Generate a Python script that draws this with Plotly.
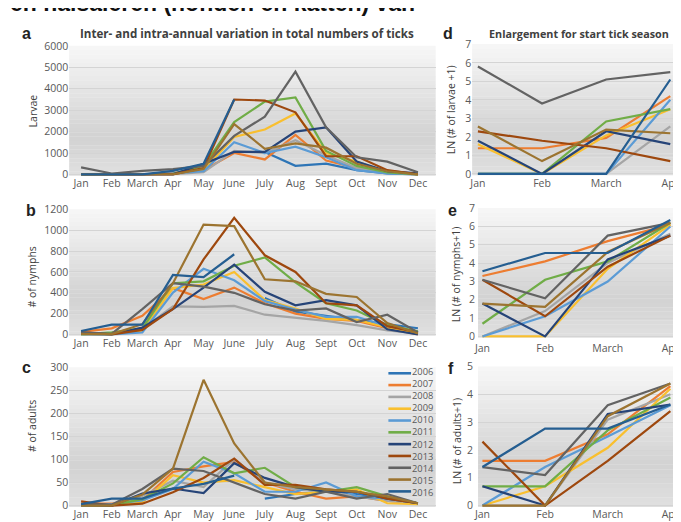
import numpy as np
import plotly.graph_objects as go

months = ["Jan", "Feb", "March", "Apr", "May", "June", "July", "Aug", "Sept", "Oct", "Nov", "Dec"]
years = ["2006", "2007", "2008", "2009", "2010", "2011", "2012", "2013", "2014", "2015", "2016"]
colors = ["#2E75B6", "#ED7D31", "#A5A5A5", "#F9BF2E", "#5B9BD5", "#70AD47",
          "#264478", "#9E480E", "#636363", "#9C7430", "#255E91"]
N = None

larvae = {
    "2006": [N, N, N, N, N, N, 1050, 400, 500, 200, 50, 0],
    "2007": [3, 3, 6, 66, 200, 1000, 700, 1850, 650, 300, 100, 0],
    "2008": [0, 0, 0, 12, 100, 1100, 1000, 1600, 900, 300, 100, 0],
    "2009": [4, 0, 7, 32, 200, 1750, 2100, 2850, 1000, 600, 100, 0],
    "2010": [0, 0, 0, 54, 150, 1500, 1000, 1300, 800, 200, 50, 0],
    "2011": [0, 0, 16, 32, 400, 2450, 3400, 3600, 1100, 400, 100, 0],
    "2012": [5, 0, 9, 4, 500, 1050, 1050, 2000, 2200, 600, 150, 50],
    "2013": [9, 5, 3, 1, 300, 3500, 3450, 2900, 850, 850, 200, 0],
    "2014": [330, 44, 163, 244, 400, 1800, 2700, 4800, 2200, 800, 600, 100],
    "2015": [12, 1, 10, 8, 250, 2350, 1200, 1450, 1250, 500, 150, 0],
    "2016": [0, 0, 0, 163, 500, 3500, N, N, N, N, N, N],
}
nymphs = {
    "2006": [N, N, N, N, N, N, 350, 220, 180, 140, 100, 60],
    "2007": [26, 59, 180, 445, 340, 450, 300, 200, 150, 130, 60, 0],
    "2008": [0, 3, 54, 270, 265, 275, 190, 160, 130, 90, 40, 10],
    "2009": [0, 0, 39, 445, 480, 600, 330, 250, 150, 140, 70, 10],
    "2010": [0, 2, 19, 402, 630, 520, 320, 240, 170, 170, 80, 30],
    "2011": [1, 21, 59, 492, 510, 660, 740, 500, 300, 230, 90, 30],
    "2012": [5, 0, 66, 244, 450, 670, 410, 280, 330, 280, 50, 0],
    "2013": [21, 2, 44, 244, 720, 1120, 760, 600, 300, 280, 80, 20],
    "2014": [21, 7, 244, 492, 460, 400, 290, 230, 250, 120, 190, 20],
    "2015": [5, 4, 99, 492, 1055, 1040, 530, 510, 390, 360, 110, 10],
    "2016": [34, 94, 94, 572, 550, 770, N, N, N, N, N, N],
}
adults = {
    "2006": [N, N, N, N, N, N, 15, 25, 30, 25, 15, 5],
    "2007": [4, 4, 12, 73, 85, 95, 50, 30, 15, 20, 10, 5],
    "2008": [0, 0, 21, 54, 40, 100, 50, 35, 30, 20, 10, 5],
    "2009": [0, 1, 7, 66, 50, 55, 40, 25, 30, 35, 5, 3],
    "2010": [0, 3, 11, 36, 95, 70, 30, 30, 50, 20, 15, 5],
    "2011": [1, 1, 14, 48, 105, 70, 82, 40, 30, 40, 20, 5],
    "2012": [1, 0, 26, 37, 27, 92, 60, 40, 30, 30, 15, 5],
    "2013": [9, 0, 4, 29, 60, 102, 45, 45, 35, 30, 15, 5],
    "2014": [3, 2, 36, 80, 75, 50, 25, 15, 30, 15, 25, 5],
    "2015": [0, 0, 24, 80, 273, 135, 50, 40, 35, 30, 20, 5],
    "2016": [3, 15, 15, 37, 47, 65, N, N, N, N, N, N],
}

W, H = 681, 522
def fx(px): return px / W
def fy(py): return 1 - py / H

fig = go.Figure()
panels = [
    ("", "", larvae, 12, False),
    ("2", "2", nymphs, 12, False),
    ("3", "3", adults, 12, False),
    ("4", "4", larvae, 4, True),
    ("5", "5", nymphs, 4, True),
    ("6", "6", adults, 4, True),
]
for xs, ys, data, nm, use_ln in panels:
    for yr, col in zip(years, colors):
        vals = data[yr][:nm]
        if use_ln:
            vals = [None if v is None else float(np.log(v + 1)) for v in vals]
        if all(v is None for v in vals):
            continue
        fig.add_trace(go.Scatter(
            x=list(range(nm)), y=vals, mode="lines", name=yr,
            line=dict(color=col, width=2.2), showlegend=False,
            xaxis="x" + xs, yaxis="y" + ys, connectgaps=False))

tickfont = dict(family="Open Sans, Arial", size=10.5, color="#595959")
common_x = dict(showgrid=False, showline=False, zeroline=False, ticks="",
                tickfont=tickfont, fixedrange=True)
common_y = dict(showgrid=True, gridcolor="#d4d4d4", gridwidth=1, showline=False,
                zeroline=False, ticks="", tickfont=tickfont, fixedrange=True)

mx = [0, 1, 2, 3, 4, 5, 6, 7, 8, 9, 10, 11]
layout = dict(
    width=W, height=H, margin=dict(l=0, r=0, t=0, b=0),
    paper_bgcolor="white", plot_bgcolor="rgba(0,0,0,0)", showlegend=False,
    xaxis=dict(common_x, domain=[fx(58), fx(430)], range=[-0.39, 11.58],
               tickvals=mx, ticktext=months, anchor="y"),
    yaxis=dict(common_y, domain=[fy(164.5), fy(31.7)], range=[-60, 6000],
               tickvals=[0, 1000, 2000, 3000, 4000, 5000, 6000], anchor="x"),
    xaxis2=dict(common_x, domain=[fx(58), fx(430)], range=[-0.39, 11.58],
                tickvals=mx, ticktext=months, anchor="y2"),
    yaxis2=dict(common_y, domain=[fy(328.3), fy(199)], range=[-12, 1200],
                tickvals=[0, 200, 400, 600, 800, 1000, 1200], anchor="x2"),
    xaxis3=dict(common_x, domain=[fx(504), fx(430)] if False else [fx(58), fx(430)],
                range=[-0.39, 11.58], tickvals=mx, ticktext=months, anchor="y3"),
    yaxis3=dict(common_y, domain=[fy(503.5), fy(360.7)], range=[-3, 300],
                tickvals=[0, 50, 100, 150, 200, 250, 300], anchor="x3"),
    xaxis4=dict(common_x, domain=[fx(467), fx(672)], range=[-0.09, 3.06],
                tickvals=[0, 1, 2, 3], ticktext=months[:4], anchor="y4"),
    yaxis4=dict(common_y, domain=[fy(164), fy(30)], range=[-0.07, 7],
                tickvals=list(range(8)), anchor="x4"),
    xaxis5=dict(common_x, domain=[fx(473), fx(672)], range=[-0.07, 3.06],
                tickvals=[0, 1, 2, 3], ticktext=months[:4], anchor="y5",
                ticklabelstandoff=3),
    yaxis5=dict(common_y, domain=[fy(330.3), fy(197.7)], range=[-0.07, 7],
                tickvals=list(range(8)), anchor="x5", ticklabelstandoff=2),
    xaxis6=dict(common_x, domain=[fx(473), fx(672)], range=[-0.07, 3.06],
                tickvals=[0, 1, 2, 3], ticktext=months[:4], anchor="y6"),
    yaxis6=dict(common_y, domain=[fy(503.5), fy(360)], range=[-0.05, 5],
                tickvals=list(range(6)), anchor="x6", ticklabelstandoff=4),
)
fig.update_layout(**layout)

# gradient backgrounds
def shade(t):
    if t < 0.7:
        v = 247 - (247 - 210) * (t / 0.7)
    else:
        v = 210 + (224 - 210) * ((t - 0.7) / 0.3)
    v = int(round(v))
    return f"rgb({v},{v},{v})"

shapes = []
nb = 30
for sfx in ["", "2", "3", "4", "5", "6"]:
    for i in range(nb):
        t = (i + 0.5) / nb
        shapes.append(dict(type="rect", xref=("x" + sfx) + " domain", yref=("y" + sfx) + " domain",
                           x0=0, x1=1, y0=1 - (i + 1) / nb, y1=1 - i / nb + 0.002,
                           fillcolor=shade(t), line=dict(width=0), layer="below"))

# custom legend in panel c
leg_top = 366.7
leg_fs = 9.3
leg_gap = leg_fs * 1.3
for k, (yr, col) in enumerate(zip(years, colors)):
    yy = fy(leg_top + leg_gap * k)
    shapes.append(dict(type="line", xref="paper", yref="paper", x0=fx(382), x1=fx(405),
                       y0=yy, y1=yy, line=dict(color=col, width=2.6)))
fig.update_layout(shapes=shapes)

ann = []
ann.append(dict(text="<br>".join(years), xref="paper", yref="paper", x=fx(405),
                y=fy(leg_top + leg_gap * 5), xanchor="left", yanchor="middle", align="left",
                showarrow=False, borderpad=0,
                font=dict(family="Open Sans, Arial", size=leg_fs, color="#595959")))

ann.append(dict(text="Inter- and intra-annual variation in total numbers of ticks", xref="paper", yref="paper",
                x=fx(238), y=fy(19), xanchor="center", yanchor="middle", showarrow=False,
                font=dict(family="Open Sans, Arial", size=11.6, color="#404040", weight="bold")))
ann.append(dict(text="Enlargement for start tick season", xref="paper", yref="paper",
                x=fx(575), y=fy(19), xanchor="center", yanchor="middle", showarrow=False,
                font=dict(family="Open Sans, Arial", size=10.8, color="#404040", weight="bold")))

letter_font = dict(family="Arial", size=16, color="#222222", weight="bold")
for lt, px, py in [("a", 15, 19), ("b", 19, 200), ("c", 15, 361), ("d", 442, 19), ("e", 447, 200), ("f", 446, 362)]:
    ann.append(dict(text=lt, xref="paper", yref="paper", x=fx(px), y=fy(py), xanchor="center",
                    yanchor="middle", showarrow=False, font=letter_font))

axis_font = dict(family="Open Sans, Arial", size=10.5, color="#404040")
for txt, px, py in [("Larvae", 21, 98), ("# of nymphs", 20, 268), ("# of adults", 21, 421),
                    ("LN (# of larvae +1)", 445, 97), ("LN (# of nymphs+1)", 451, 265),
                    ("LN (# of adults+1)", 452, 436)]:
    ann.append(dict(text=txt, xref="paper", yref="paper", x=fx(px), y=fy(py), xanchor="center",
                    yanchor="middle", textangle=-90, showarrow=False, font=axis_font))

ann.append(dict(text="en halsaleren (honden en katten) van", xref="paper", yref="paper",
                x=fx(-4), y=fy(3.5), xanchor="left", yanchor="bottom", showarrow=False,
                font=dict(family="Arial", size=23, color="#111111", weight="bold")))
fig.update_layout(annotations=ann)

fig.write_html("out.html")
